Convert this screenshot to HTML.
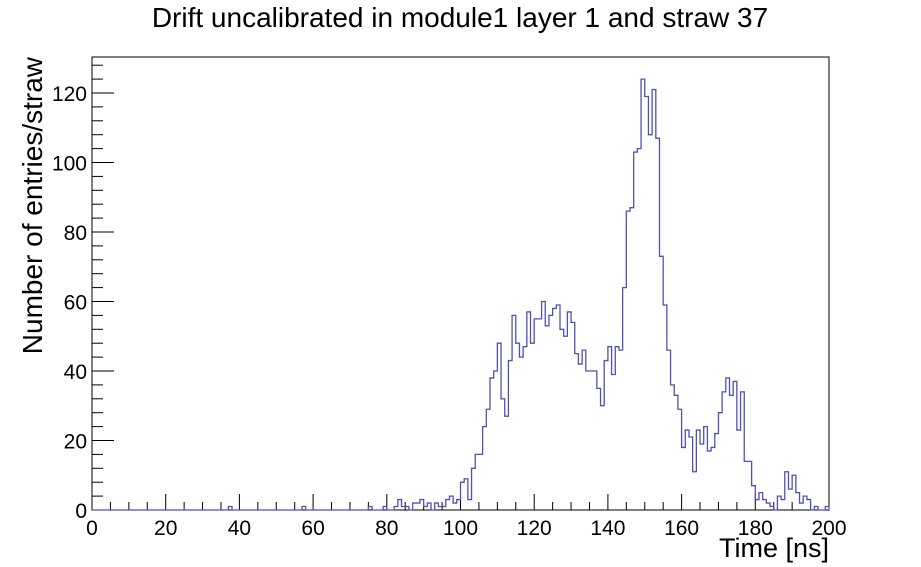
<!DOCTYPE html>
<html><head><meta charset="utf-8"><style>
body{margin:0;background:#fff}
svg{display:block;font-family:"Liberation Sans",Arial,sans-serif}
</style></head><body>
<svg id="c" width="921" height="567">
<text x="460" y="27" text-anchor="middle" font-size="28">Drift uncalibrated in module1 layer 1 and straw 37</text>
<rect x="92" y="57" width="737" height="453" fill="none" stroke="#000" stroke-width="1"/>
<g id="ticks"></g>
<path id="hist" fill="none" stroke="#5050b8" stroke-width="1.3"/>
<text x="829" y="557" text-anchor="end" font-size="27">Time [ns]</text>
<text transform="translate(42,57) rotate(-90)" text-anchor="end" font-size="28">Number of entries/straw</text>
</svg>
<script>
const xTicks=[0,20,40,60,80,100,120,140,160,180,200];
const yTicks=[0,20,40,60,80,100,120];
const binCounts={37:1,57:1,75:1,79:1,82:1,83:3,84:1,85:1,87:2,88:2,89:3,90:1,91:2,93:2,94:1,95:1,96:3,97:4,98:2,99:3,100:8,101:9,102:3,103:12,104:16,105:16,106:24,107:29,108:38,109:40,110:48,111:32,112:27,113:43,114:56,115:48,116:44,117:47,118:57,119:48,120:55,121:55,122:60,123:53,124:56,125:58,126:59,127:52,128:50,129:57,130:54,131:45,132:42,133:46,134:40,135:40,136:40,137:35,138:30,139:43,140:47,141:39,142:47,143:46,144:64,145:86,146:87,147:103,148:104,149:124,150:119,151:108,152:121,153:107,154:73,155:59,156:46,157:36,158:33,159:29,160:18,161:23,162:21,163:11,164:23,165:19,166:24,167:17,168:18,169:22,170:28,171:34,172:38,173:33,174:37,175:23,176:34,177:14,178:14,179:7,180:3,181:5,182:3,183:2,184:1,186:4,187:3,188:11,189:6,190:10,191:5,192:2,193:4,194:3,196:1,199:1};
const X0=92,X1=829,Y0=510,Y1=57;
const sx=v=>X0+(X1-X0)*v/200;
const sy=v=>Y0-(Y0-93)*v/120;
const NS="http://www.w3.org/2000/svg";
const g=document.getElementById('ticks');
function line(x1,y1,x2,y2,name){const l=document.createElementNS(NS,'line');
l.setAttribute('x1',x1);l.setAttribute('y1',y1);l.setAttribute('x2',x2);l.setAttribute('y2',y2);
l.setAttribute('stroke','#000');


g.appendChild(l);}
function txt(x,y,s,anchor,name){const t=document.createElementNS(NS,'text');
t.setAttribute('x',x);t.setAttribute('y',y);t.setAttribute('font-size','21');t.setAttribute('text-anchor',anchor);t.textContent=s;


g.appendChild(t);}
for(let v=0;v<=200;v+=5){const major=v%20===0;line(sx(v),Y0,sx(v),Y0-(major?16:8),'x-tick');}
for(let v=0;v<=128;v+=4){if(sy(v)<Y1)break;const major=v%20===0;line(X0,sy(v),X0+(major?22:11),sy(v),'y-tick');}
xTicks.forEach(v=>txt(sx(v),535,String(v),'middle','x-tick-label'));
yTicks.forEach(v=>txt(X0-5,sy(v)+8,String(v),'end','y-tick-label'));
let d='M'+sx(0)+','+sy(0);
for(let i=0;i<200;i++){const c=binCounts[i]||0;d+=' L'+sx(i)+','+sy(c)+' L'+sx(i+1)+','+sy(c);}
d+=' L'+sx(200)+','+sy(0);
document.getElementById('hist').setAttribute('d',d);
</script>
</body></html>
